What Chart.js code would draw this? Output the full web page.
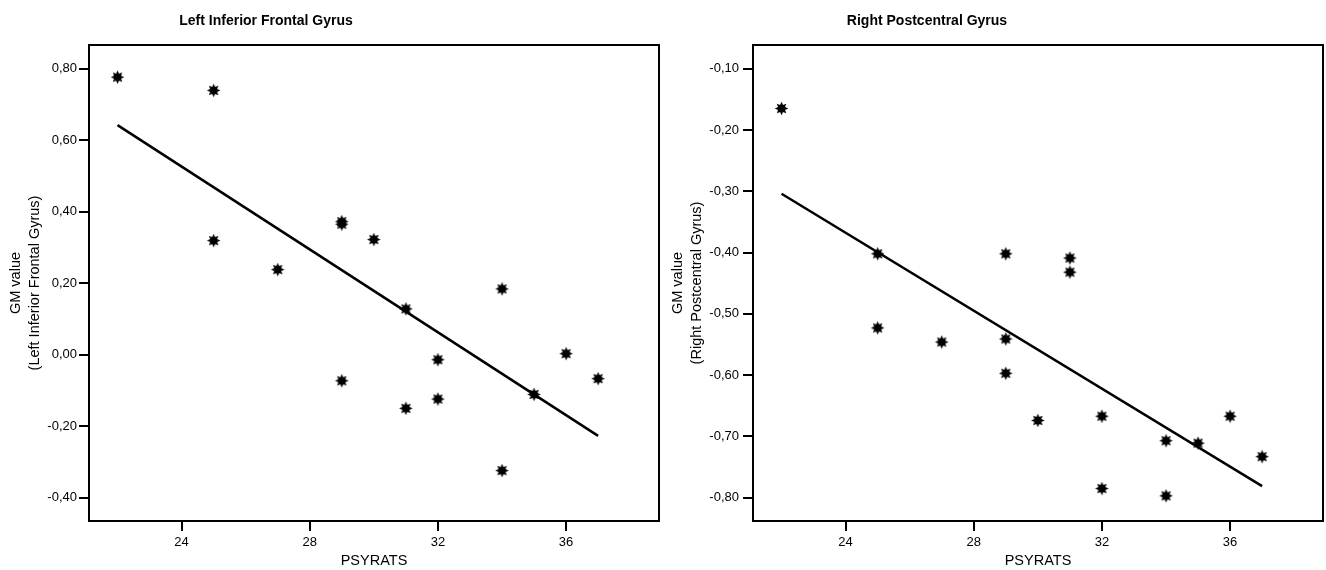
<!DOCTYPE html>
<html>
<head>
<meta charset="utf-8">
<title>GM value vs PSYRATS</title>
<script src="https://cdn.jsdelivr.net/npm/chart.js@4.4.1/dist/chart.umd.min.js"></script>
<style>
  html, body { margin: 0; padding: 0; background: #fff; }
  #wrap { position: relative; width: 1326px; height: 570px; overflow: hidden; }
  canvas { position: absolute; top: 0; }
  #leftChart { left: 0; }
  #rightChart { left: 660px; }
</style>
</head>
<body>
<div id="wrap">
  <canvas id="leftChart" width="660" height="570"></canvas>
  <canvas id="rightChart" width="666" height="570"></canvas>
</div>
<script>
// --- DATA ---
const psyrats = [22, 25, 25, 27, 29, 29, 29, 30, 31, 31, 32, 32, 34, 34, 35, 36, 37];
const gmLeftIFG = [0.776, 0.739, 0.319, 0.238, 0.372, 0.365, -0.073, 0.322, 0.128, -0.150, -0.014, -0.124, 0.184, -0.324, -0.111, 0.003, -0.067];
const gmRightPostcentral = [-0.165, -0.402, -0.523, -0.546, -0.402, -0.541, -0.597, -0.674, -0.409, -0.432, -0.667, -0.785, -0.707, -0.797, -0.711, -0.667, -0.733];

// fitted line end points
const fitX = [22, 37];
const fitLeftIFG = [0.642, -0.227];
const fitRightPostcentral = [-0.304, -0.781];

const xTicks = [24, 28, 32, 36];
const yTicksLeft = [-0.40, -0.20, 0.00, 0.20, 0.40, 0.60, 0.80];
const yTicksRight = [-0.80, -0.70, -0.60, -0.50, -0.40, -0.30, -0.20, -0.10];

const FONT = "'Liberation Sans', Arial, sans-serif";

// --- MARKER: filled 8 point star ---
function makeStar() {
  const c = document.createElement('canvas');
  c.width = 15; c.height = 15;
  const g = c.getContext('2d');
  const cx = 7.5, cy = 7.5, outer = 6.7, inner = 3.8;
  g.beginPath();
  for (let i = 0; i < 16; i++) {
    const r = i % 2 === 0 ? outer : inner;
    const a = -Math.PI / 2 + i * Math.PI / 8;
    const px = cx + r * Math.cos(a), py = cy + r * Math.sin(a);
    if (i === 0) g.moveTo(px, py); else g.lineTo(px, py);
  }
  g.closePath();
  g.fillStyle = '#000';
  g.fill();
  return c;
}
const starImg = makeStar();

// --- PLUGINS ---
const framePlugin = {
  id: 'frame',
  afterDraw(chart) {
    const { ctx, chartArea: a } = chart;
    ctx.save();
    ctx.strokeStyle = '#000';
    ctx.lineWidth = 2;
    ctx.strokeRect(a.left, a.top, a.right - a.left, a.bottom - a.top);
    ctx.restore();
  }
};

const panelTitlePlugin = {
  id: 'panelTitle',
  afterDraw(chart, args, opts) {
    const ctx = chart.ctx;
    ctx.save();
    ctx.fillStyle = '#000';
    ctx.font = 'bold 14px ' + FONT;
    ctx.textAlign = 'center';
    ctx.textBaseline = 'alphabetic';
    ctx.fillText(opts.text, opts.x, opts.y);
    ctx.restore();
  }
};

const fmtComma = v => v.toFixed(2).replace('.', ',');

function buildPanel(canvasId, cfg) {
  const points = psyrats.map((x, i) => ({ x, y: cfg.yValues[i] }));
  const fit = fitX.map((x, i) => ({ x, y: cfg.fit[i] }));

  return new Chart(document.getElementById(canvasId), {
    type: 'scatter',
    data: {
      datasets: [
        {
          type: 'line',
          data: fit,
          borderColor: '#000',
          borderWidth: 2.5,
          pointRadius: 0,
          fill: false,
          order: 2
        },
        {
          data: points,
          pointStyle: starImg,
          pointRadius: 7,
          order: 1
        }
      ]
    },
    plugins: [framePlugin, panelTitlePlugin],
    options: {
      responsive: false,
      animation: false,
      events: [],
      layout: { autoPadding: false, padding: { top: 45, right: cfg.padRight, left: 0, bottom: 0 } },
      plugins: {
        legend: { display: false },
        tooltip: { enabled: false },
        panelTitle: { text: cfg.title, x: cfg.titleX, y: 25 }
      },
      scales: {
        x: {
          type: 'linear',
          min: 21.11,
          max: 38.9,
          border: { display: false },
          grid: { drawOnChartArea: false, drawTicks: true, tickLength: 10, color: '#000', lineWidth: 2 },
          afterBuildTicks: s => { s.ticks = xTicks.map(v => ({ value: v })); },
          afterFit: s => { s.height = 49; s.paddingLeft = 0; s.paddingRight = 0; },
          ticks: { color: '#000', padding: 4, font: { family: FONT, size: 13 }, maxRotation: 0 },
          title: {
            display: true,
            text: 'PSYRATS',
            color: '#000',
            font: { family: FONT, size: 14.5 },
            padding: { top: 0, bottom: 0 }
          }
        },
        y: {
          type: 'linear',
          min: cfg.yMin,
          max: cfg.yMax,
          border: { display: false },
          grid: { drawOnChartArea: false, drawTicks: true, tickLength: 10, color: '#000', lineWidth: 2 },
          afterBuildTicks: s => { s.ticks = cfg.yTicks.map(v => ({ value: v })); },
          afterFit: s => { s.width = cfg.yWidth; s.paddingTop = 0; s.paddingBottom = 0; },
          ticks: { color: '#000', padding: cfg.tickPad, font: { family: FONT, size: 13 }, callback: fmtComma },
          title: {
            display: true,
            text: ['GM value', cfg.yTitle],
            color: '#000',
            font: { family: FONT, size: 14.5, lineHeight: 1.35 },
            padding: { top: cfg.yTitlePad, bottom: 0 }
          }
        }
      }
    }
  });
}

// --- INIT ---
document.addEventListener('DOMContentLoaded', () => {
  buildPanel('leftChart', {
    title: 'Left Inferior Frontal Gyrus',
    titleX: 266,
    yValues: gmLeftIFG,
    fit: fitLeftIFG,
    yTicks: yTicksLeft,
    yMin: -0.465,
    yMax: 0.866,
    yTitle: '(Left Inferior Frontal Gyrus)',
    yWidth: 89,
    padRight: 1,
    tickPad: 2,
    yTitlePad: 6
  });

  buildPanel('rightChart', {
    title: 'Right Postcentral Gyrus',
    titleX: 267,
    yValues: gmRightPostcentral,
    fit: fitRightPostcentral,
    yTicks: yTicksRight,
    yMin: -0.838,
    yMax: -0.0614,
    yTitle: '(Right Postcentral Gyrus)',
    yWidth: 93,
    padRight: 3,
    tickPad: 4,
    yTitlePad: 8
  });
});
</script>
</body>
</html>
